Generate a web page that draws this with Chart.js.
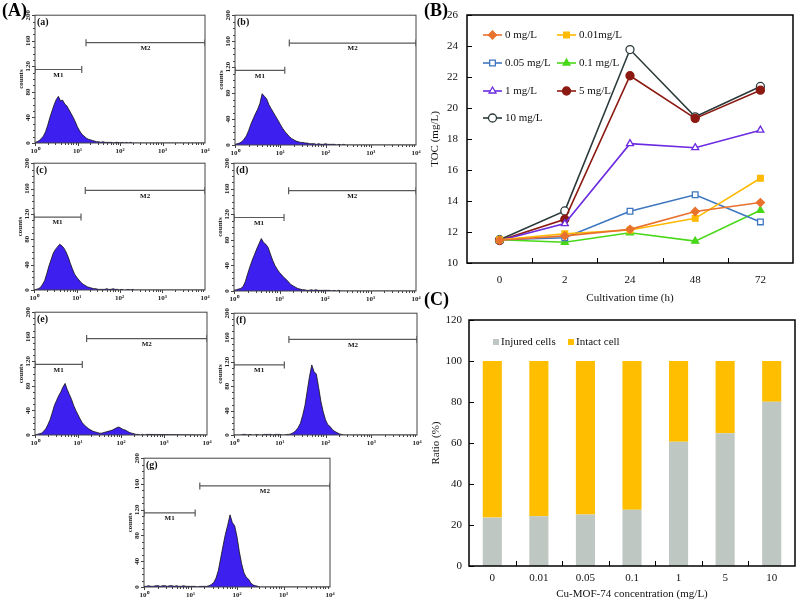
<!DOCTYPE html>
<html>
<head>
<meta charset="utf-8">
<title>Cu-MOF-74 exposure</title>
<script src="https://cdn.jsdelivr.net/npm/chart.js@4.4.1/dist/chart.umd.min.js"></script>
<style>
  html, body { margin: 0; padding: 0; background: #fff; }
  #fig { position: relative; width: 803px; height: 606px; overflow: hidden; }
  #fig canvas { position: absolute; }
  .tag { position: absolute; font: bold 18px 'Liberation Serif', serif; line-height: 1; color: #000; z-index: 2; }
</style>
</head>
<body>
<div id="fig">
  <div class="tag" style="left:2px;top:1px">(A)</div>
  <div class="tag" style="left:424px;top:1px">(B)</div>
  <div class="tag" style="left:424px;top:290px">(C)</div>
</div>
<script>
// ---------- (A) flow cytometry histograms ----------
// channel position in decades (10^0 .. 10^4)
const channelDecades = [0, 0.05, 0.1, 0.15, 0.2, 0.25, 0.3, 0.35, 0.4, 0.45,
  0.5, 0.55, 0.6, 0.65, 0.7, 0.75, 0.8, 0.85, 0.9, 0.95,
  1, 1.05, 1.1, 1.15, 1.2, 1.25, 1.3, 1.35, 1.4, 1.45,
  1.5, 1.55, 1.6, 1.65, 1.7, 1.75, 1.8, 1.85, 1.9, 1.95,
  2, 2.05, 2.1, 2.15, 2.2, 2.25, 2.3, 2.35, 2.4, 2.45,
  2.5, 2.55, 2.6, 4];

const countsA = [1, 2, 4, 7, 11, 18, 28, 40, 50, 60, 68, 73, 66, 67, 61, 58, 52, 46, 40, 33,
  25, 19, 14, 11, 8, 6, 5, 4, 3, 2, 2, 1, 2, 1, 1, 1, 1, 0, 1, 1,
  0, 1, 0, 1, 0, 1, 0, 0, 0, 0, 0, 0, 0, 0];
const countsB = [1, 2, 3, 5, 9, 14, 22, 32, 40, 48, 55, 64, 79, 75, 71, 62, 56, 50, 44, 38,
  32, 26, 21, 17, 13, 10, 8, 6, 5, 4, 4, 3, 3, 2, 2, 2, 1, 2, 1, 1,
  2, 1, 1, 1, 1, 0, 1, 0, 1, 0, 0, 0, 0, 0];
const countsC = [0, 1, 2, 4, 9, 15, 26, 38, 48, 58, 64, 68, 72, 70, 66, 60, 52, 42, 33, 25,
  20, 16, 12, 9, 7, 5, 4, 3, 2, 2, 1, 1, 1, 1, 2, 1, 1, 2, 1, 1,
  0, 1, 0, 0, 1, 0, 1, 0, 0, 0, 0, 0, 0, 0];
const countsD = [1, 2, 3, 4, 7, 15, 27, 38, 48, 57, 66, 74, 82, 76, 73, 68, 58, 48, 40, 34,
  29, 25, 21, 18, 14, 10, 8, 6, 4, 3, 2, 2, 1, 1, 2, 1, 2, 1, 1, 1,
  1, 1, 1, 0, 1, 0, 1, 0, 0, 0, 0, 0, 0, 0];
const countsE = [0, 1, 2, 3, 6, 10, 17, 25, 36, 48, 56, 64, 70, 78, 84, 74, 66, 58, 48, 40,
  33, 26, 20, 16, 13, 10, 8, 6, 5, 4, 3, 3, 4, 5, 6, 7, 8, 10, 12, 13,
  11, 9, 8, 6, 4, 3, 2, 1, 1, 0, 1, 0, 1, 0];
const countsF = [0, 0, 0, 0, 1, 1, 0, 1, 0, 0, 1, 0, 0, 1, 1, 1, 1, 0, 1, 1,
  1, 0, 0, 1, 1, 2, 4, 7, 12, 19, 32, 48, 72, 96, 115, 104, 100, 78, 55, 38,
  25, 17, 14, 9, 6, 4, 2, 1, 0, 0, 0, 0, 0, 0];
const countsG = [1, 1, 2, 1, 1, 2, 2, 1, 2, 2, 1, 2, 2, 1, 2, 1, 1, 2, 1, 1,
  1, 1, 1, 0, 1, 1, 1, 1, 2, 4, 7, 14, 26, 45, 64, 82, 96, 112, 100, 95,
  78, 55, 36, 22, 15, 12, 6, 3, 2, 1, 0, 0, 0, 0];

const gateM1 = [0, 1.1];
const gateM2 = [1.2, 4];
const gateLevels = [115, 157];
const decadeLabels = ['10\u2070', '10\u00b9', '10\u00b2', '10\u00b3', '10\u2074'];

// ---------- (B) TOC vs cultivation time ----------
const timeLabels = ['0', '2', '24', '48', '72'];
const tocNames = ['0 mg/L', '0.01mg/L', '0.05 mg/L', '0.1 mg/L', '1 mg/L', '5 mg/L', '10 mg/L'];
const toc0 = [11.47, 11.75, 12.17, 13.32, 13.9];
const toc001 = [11.5, 11.89, 12.13, 12.88, 15.47];
const toc005 = [11.5, 11.63, 13.34, 14.4, 12.65];
const toc01 = [11.5, 11.34, 11.95, 11.41, 13.4];
const toc1 = [11.45, 12.54, 17.7, 17.44, 18.57];
const toc5 = [11.45, 12.82, 22.08, 19.33, 21.15];
const toc10 = [11.5, 13.36, 23.77, 19.43, 21.39];

// ---------- (C) injured / intact ratio ----------
const concLabels = ['0', '0.01', '0.05', '0.1', '1', '5', '10'];
const injuredPct = [23.6, 24.3, 25.1, 27.5, 60.6, 64.7, 80.1];
const intactPct = [76.4, 75.7, 74.9, 72.5, 39.4, 35.3, 19.9];

const SERIF = "'Liberation Serif', 'Times New Roman', serif";

function addCanvas(left, top, w, h) {
    const c = document.createElement('canvas');
    c.width = w;
    c.height = h;
    c.style.left = left + 'px';
    c.style.top = top + 'px';
    c.style.width = w + 'px';
    c.style.height = h + 'px';
    document.getElementById('fig').appendChild(c);
    return c;
}

// pin an axis to a fixed thickness so the plot box lands where it should
function fixedAxis(size) {
    return (scale) => {
        if (scale.isHorizontal()) scale.height = size; else scale.width = size;
        scale.paddingLeft = scale.paddingRight = scale.paddingTop = scale.paddingBottom = 0;
    };
}

// box around the plot, inner ticks, panel tag, gate labels
const frame = {
    id: 'frame',
    afterDraw(chart, args, o) {
        const { ctx, chartArea: a } = chart;
        const xs = chart.scales.x, ys = chart.scales.y;
        ctx.save();
        ctx.strokeStyle = o.color;
        ctx.lineWidth = o.width;
        ctx.strokeRect(a.left, a.top, a.right - a.left, a.bottom - a.top);

        ctx.lineWidth = 1;
        ctx.beginPath();
        if (o.catTicks) {
            for (let i = 0; i < xs.ticks.length - 1; i++) {
                const px = Math.round((xs.getPixelForTick(i) + xs.getPixelForTick(i + 1)) / 2) + 0.5;
                ctx.moveTo(px, a.bottom);
                ctx.lineTo(px, a.bottom - o.catTicks);
            }
            ys.ticks.forEach(t => {
                const py = Math.round(ys.getPixelForValue(t.value)) + 0.5;
                ctx.moveTo(a.left, py);
                ctx.lineTo(a.left + o.catTicks, py);
            });
        }
        if (o.logTicks) {
            for (let d = 0; d < 4; d++) {
                for (let k = 1; k <= 9; k++) {
                    const px = Math.round(xs.getPixelForValue(d + Math.log10(k))) + 0.5;
                    ctx.moveTo(px, a.bottom);
                    ctx.lineTo(px, a.bottom + (k === 1 ? 3 : 2));
                }
            }
            for (let v = 0; v <= 200; v += 10) {
                const py = Math.round(ys.getPixelForValue(v)) + 0.5;
                ctx.moveTo(a.left, py);
                ctx.lineTo(a.left - (v % 40 === 0 ? 3 : 2), py);
            }
        }
        ctx.stroke();

        ctx.fillStyle = '#111';
        if (o.tag) {
            ctx.font = 'bold 10px ' + SERIF;
            ctx.textBaseline = 'top';
            ctx.textAlign = 'left';
            ctx.fillText(o.tag, a.left + 2, a.top + 2);
        }
        if (o.gates) {
            ctx.font = 'bold 7px ' + SERIF;
            ctx.textAlign = 'center';
            ctx.textBaseline = 'top';
            o.gates.forEach(g => {
                const px = xs.getPixelForValue((g.range[0] + g.range[1]) / 2);
                const py = ys.getPixelForValue(g.level);
                ctx.fillText(g.text, px, py + 2);
            });
        }
        ctx.restore();
    }
};

// two-column key drawn inside the plot
const keyBox = {
    id: 'keyBox',
    afterDraw(chart, args, o) {
        if (!o.cols) return;
        const { ctx, chartArea: a } = chart;
        ctx.save();
        ctx.font = o.font;
        ctx.textBaseline = 'middle';
        ctx.textAlign = 'left';
        chart.data.datasets.forEach((ds, i) => {
            const x0 = a.left + o.cols[i % 2];
            const cy = a.top + o.rows[Math.floor(i / 2)];
            if (o.mode === 'line') {
                ctx.strokeStyle = ds.borderColor;
                ctx.lineWidth = ds.borderWidth;
                ctx.beginPath();
                ctx.moveTo(x0, cy);
                ctx.lineTo(x0 + o.len, cy);
                ctx.stroke();
                ctx.fillStyle = ds.pointBackgroundColor;
                ctx.lineWidth = ds.pointBorderWidth;
                Chart.helpers.drawPoint(ctx, {
                    pointStyle: ds.pointStyle, rotation: 0,
                    radius: ds.pointRadius, borderWidth: ds.pointBorderWidth
                }, x0 + o.len / 2, cy);
            } else {
                ctx.fillStyle = ds.backgroundColor;
                ctx.fillRect(x0, cy - o.len / 2, o.len, o.len);
            }
            ctx.fillStyle = '#111';
            ctx.fillText(ds.label, x0 + o.gap, cy);
        });
        ctx.restore();
    }
};

// ---------- (A) ----------
const histPanels = [
    { tag: '(a)', counts: countsA, box: [35, 15, 205, 143] },
    { tag: '(b)', counts: countsB, box: [235, 15, 416, 145] },
    { tag: '(c)', counts: countsC, box: [34, 163, 205, 290] },
    { tag: '(d)', counts: countsD, box: [234, 163, 416, 291] },
    { tag: '(e)', counts: countsE, box: [35, 312, 207, 435] },
    { tag: '(f)', counts: countsF, box: [234, 313, 417, 435] },
    { tag: '(g)', counts: countsG, box: [144, 458, 330, 587] }
];

function gateSet(range, level) {
    return {
        data: range.map(x => ({ x, y: level })),
        borderColor: '#5a5a5a',
        borderWidth: 1.2,
        fill: false,
        pointStyle: 'line',
        rotation: 90,
        pointRadius: 3.5,
        pointBorderColor: '#5a5a5a',
        pointBorderWidth: 1.2
    };
}

const tinyFont = { family: SERIF, size: 7, weight: 'bold' };

histPanels.forEach(p => {
    const [L, T, R, B] = p.box;
    const cv = addCanvas(L - 34, T - 5, R - L + 41, B - T + 19);
    new Chart(cv, {
        type: 'line',
        data: {
            datasets: [
                gateSet(gateM1, gateLevels[0]),
                gateSet(gateM2, gateLevels[1]),
                {
                    data: channelDecades.map((x, i) => ({ x, y: p.counts[i] })),
                    fill: 'origin',
                    backgroundColor: '#3d1ff0',
                    borderColor: '#111',
                    borderWidth: 0.8,
                    pointRadius: 0,
                    tension: 0
                }
            ]
        },
        options: {
            responsive: false,
            animation: false,
            events: [],
            layout: { padding: { top: 5, right: 7, left: 0, bottom: 0 } },
            plugins: {
                legend: { display: false },
                tooltip: { enabled: false },
                frame: {
                    color: '#444', width: 1, logTicks: true, tag: p.tag,
                    gates: [
                        { text: 'M1', range: gateM1, level: gateLevels[0] },
                        { text: 'M2', range: gateM2, level: gateLevels[1] }
                    ]
                }
            },
            scales: {
                x: {
                    type: 'linear', min: 0, max: 4,
                    afterFit: fixedAxis(14),
                    grid: { display: false, drawTicks: false },
                    border: { display: false },
                    ticks: {
                        stepSize: 1, padding: 4, color: '#222', font: tinyFont,
                        callback: v => decadeLabels[v]
                    }
                },
                y: {
                    min: 0, max: 200,
                    afterFit: fixedAxis(34),
                    grid: { display: false, drawTicks: false },
                    border: { display: false },
                    title: {
                        display: true, text: 'counts', color: '#222',
                        font: { family: SERIF, size: 7, weight: 'bold' },
                        padding: { top: 16, bottom: 0 }
                    },
                    ticks: {
                        stepSize: 40, minRotation: 90, maxRotation: 90,
                        crossAlign: 'center', padding: 2, color: '#222', font: tinyFont
                    }
                }
            }
        },
        plugins: [frame]
    });
});

// ---------- (B) ----------
const tocSeries = [toc0, toc001, toc005, toc01, toc1, toc5, toc10];
const tocColors = ['#e8722d', '#ffb900', '#3f76c0', '#48d818', '#6b2be0', '#8c1a12', '#2b3a3a'];
const tocMarkers = ['rectRot', 'rect', 'rect', 'triangle', 'triangle', 'circle', 'circle'];
const tocHollow = [false, false, true, false, true, false, true];

const textFont = { family: SERIF, size: 11 };

new Chart(addCanvas(425, 0, 378, 306), {
    type: 'line',
    data: {
        labels: timeLabels,
        datasets: tocSeries.map((vals, i) => ({
            label: tocNames[i],
            data: vals,
            borderColor: tocColors[i],
            borderWidth: 1.6,
            pointStyle: tocMarkers[i],
            pointRadius: 4,
            pointBorderWidth: 1.3,
            pointBorderColor: tocColors[i],
            pointBackgroundColor: tocHollow[i] ? '#fff' : tocColors[i],
            tension: 0
        }))
    },
    options: {
        responsive: false,
        animation: false,
        events: [],
        layout: { padding: { top: 15, right: 10, left: 0, bottom: 0 } },
        plugins: {
            legend: { display: false },
            tooltip: { enabled: false },
            frame: { color: '#000', width: 1.5, catTicks: 5 },
            keyBox: { mode: 'line', cols: [16, 90], rows: [20, 48, 76, 103], len: 19, gap: 22, font: '11px ' + SERIF }
        },
        scales: {
            x: {
                offset: true,
                afterFit: fixedAxis(43),
                grid: { display: false, drawTicks: false },
                border: { display: false },
                ticks: { padding: 11, color: '#111', font: textFont },
                title: { display: true, text: 'Cultivation time (h)', color: '#111', font: textFont, padding: { top: 0, bottom: 1 } }
            },
            y: {
                min: 10, max: 26,
                afterFit: fixedAxis(42),
                grid: { display: false, drawTicks: false },
                border: { display: false },
                ticks: { stepSize: 2, padding: 9, color: '#111', font: textFont },
                title: { display: true, text: 'TOC (mg/L)', color: '#111', font: textFont, padding: { top: 4, bottom: 0 } }
            }
        }
    },
    plugins: [frame, keyBox]
});

// ---------- (C) ----------
new Chart(addCanvas(425, 306, 378, 300), {
    type: 'bar',
    data: {
        labels: concLabels,
        datasets: [
            { label: 'Injured cells', data: injuredPct, backgroundColor: '#bfc7c3' },
            { label: 'Intact cell', data: intactPct, backgroundColor: '#ffbf00' }
        ]
    },
    options: {
        responsive: false,
        animation: false,
        events: [],
        layout: { padding: { top: 14, right: 8, left: 0, bottom: 0 } },
        datasets: { bar: { categoryPercentage: 1, barPercentage: 0.41 } },
        plugins: {
            legend: { display: false },
            tooltip: { enabled: false },
            frame: { color: '#000', width: 1.5, catTicks: 5 },
            keyBox: { mode: 'box', cols: [24, 99], rows: [22], len: 6, gap: 8, font: '11px ' + SERIF }
        },
        scales: {
            x: {
                stacked: true,
                afterFit: fixedAxis(40),
                grid: { display: false, drawTicks: false },
                border: { display: false },
                ticks: { padding: 6, color: '#111', font: textFont },
                title: { display: true, text: 'Cu-MOF-74 concentration (mg/L)', color: '#111', font: textFont, padding: { top: 0, bottom: 5 } }
            },
            y: {
                stacked: true,
                min: 0, max: 120,
                afterFit: fixedAxis(44),
                grid: { display: false, drawTicks: false },
                border: { display: false },
                ticks: { stepSize: 20, padding: 7, color: '#111', font: textFont },
                title: { display: true, text: 'Ratio (%)', color: '#111', font: textFont, padding: { top: 5, bottom: 0 } }
            }
        }
    },
    plugins: [frame, keyBox]
});
</script>
</body>
</html>
